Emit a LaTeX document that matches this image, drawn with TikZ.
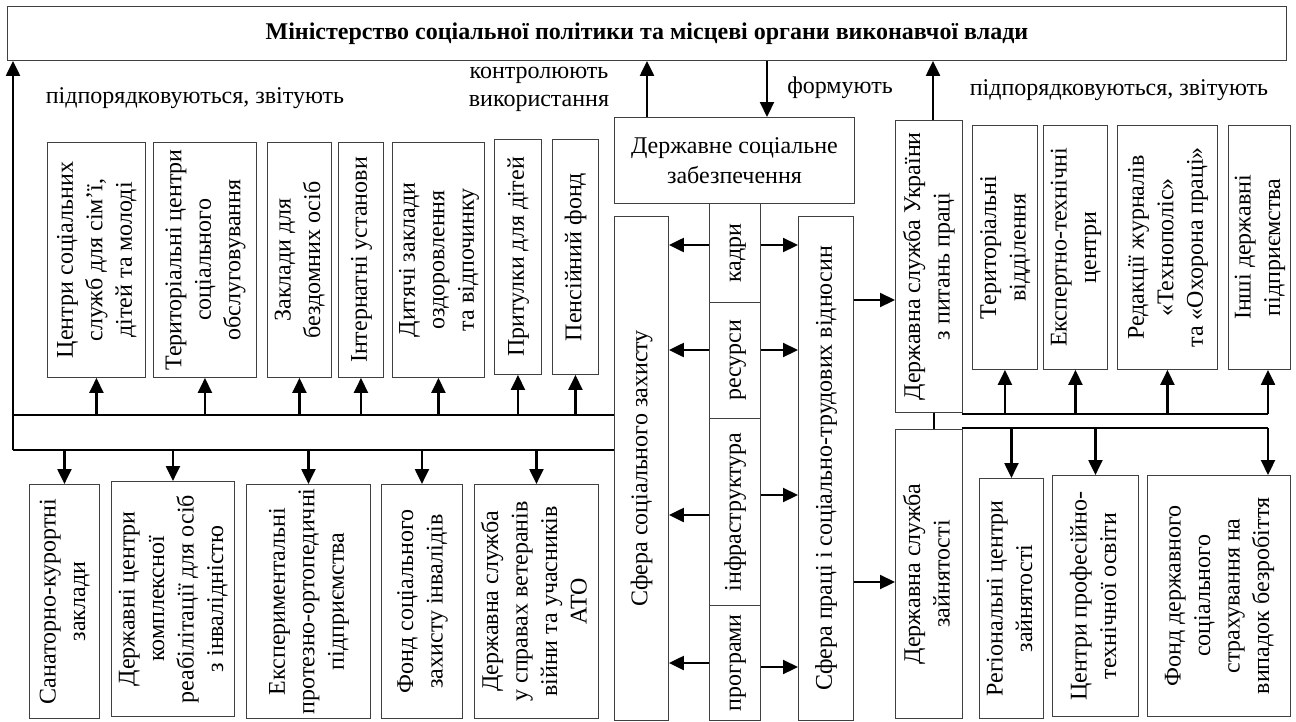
\documentclass[tikz,border=0pt]{standalone}
\usepackage{fontspec}
\setmainfont{Liberation Serif}
\usetikzlibrary{arrows.meta}
\newcommand\vlab[1]{\rotatebox{90}{\begin{tabular}{@{}c@{}}#1\end{tabular}}}

\begin{document}
\begin{tikzpicture}[x=1pt,y=-1pt,
  bx/.style={draw=black!75,line width=0.9pt,inner sep=1pt,anchor=north west,font=\fontsize{24}{29.5}\selectfont},
  tx/.style={font=\fontsize{24}{28}\selectfont,align=center},
  ar/.style={line width=2.2pt,-{Triangle[length=15pt,width=14pt]}},
  ln/.style={line width=2.2pt}]
\useasboundingbox (0,0) rectangle (1296,721);

% ministry
\node[bx,minimum width=1279,minimum height=54,font=\fontsize{24}{29.5}\selectfont\bfseries] (min) at (7,6)
  {Міністерство соціальної політики та місцеві органи виконавчої влади};

\node[tx] (lsub) at (195,98) {підпорядковуються, звітують};
\node[tx] (ctrl) at (539,89) {контролюють\\використання};
\node[tx] (form) at (840,88) {формують};
\node[tx] (rsub) at (1119,90) {підпорядковуються, звітують};

% middle column
\node[bx,minimum width=240,minimum height=86,align=center] (dsz) at (614,117) {Державне соціальне\\забезпечення};
\node[bx,minimum width=54,minimum height=504] (szz) at (614,216) {\vlab{Сфера соціального захисту}};
\node[bx,minimum width=51,minimum height=99] (kd) at (709,203) {\vlab{кадри}};
\node[bx,minimum width=51,minimum height=116] (rs) at (709,302) {\vlab{ресурси}};
\node[bx,minimum width=51,minimum height=187] (inf) at (709,418) {\vlab{інфраструктура}};
\node[bx,minimum width=51,minimum height=115] (pr) at (709,605) {\vlab{програми}};
\node[bx,minimum width=55,minimum height=504] (spr) at (798,216) {\vlab{Сфера праці і соціально-трудових відносин}};
\node[bx,minimum width=67,minimum height=292] (dsu) at (895,120) {\vlab{Державна служба України\\з питань праці}};
\node[bx,minimum width=67,minimum height=289] (dszn) at (895,429) {\vlab{Державна служба\\зайнятості}};

% upper left row
\node[bx,minimum width=98,minimum height=235] (cs) at (47,142) {\vlab{Центри соціальних\\служб для сім’ї,\\дітей та молоді}};
\node[bx,minimum width=103,minimum height=235] (tc) at (153,142) {\vlab{Територіальні центри\\соціального\\обслуговування}};
\node[bx,minimum width=64,minimum height=235] (zb) at (267,142) {\vlab{Заклади для\\бездомних осіб}};
\node[bx,minimum width=45,minimum height=235] (iu) at (338,142) {\vlab{Інтернатні установи}};
\node[bx,minimum width=92,minimum height=235] (dz) at (392,142) {\vlab{Дитячі заклади\\оздоровлення\\та відпочинку}};
\node[bx,minimum width=47,minimum height=235] (pd) at (494,139) {\vlab{Притулки для дітей}};
\node[bx,minimum width=46,minimum height=235] (pf) at (552,139) {\vlab{Пенсійний фонд}};

% lower left row
\node[bx,minimum width=70,minimum height=234] (sk) at (29,484) {\vlab{Санаторно-курортні\\заклади}};
\node[bx,minimum width=123,minimum height=235] (dc) at (111,481) {\vlab{Державні центри\\комплексної\\реабілітації для осіб\\з інвалідністю}};
\node[bx,minimum width=124,minimum height=234] (ep) at (246,484) {\vlab{Експериментальні\\протезно-ортопедичні\\підприємства}};
\node[bx,minimum width=81,minimum height=234] (fs) at (381,484) {\vlab{Фонд соціального\\захисту інвалідів}};
\node[bx,minimum width=124,minimum height=234] (dsv) at (474,484) {\vlab{Державна служба\\у справах ветеранів\\війни та учасників\\АТО}};

% upper right row
\node[bx,minimum width=65,minimum height=244] (tv) at (972,125) {\vlab{Територіальні\\відділення}};
\node[bx,minimum width=64,minimum height=244] (et) at (1043,125) {\vlab{Експертно-технічні\\центри}};
\node[bx,minimum width=100,minimum height=244] (rj) at (1117,125) {\vlab{Редакції журналів\\«Технополіс»\\та «Охорона праці»}};
\node[bx,minimum width=62,minimum height=244] (id) at (1228,125) {\vlab{Інші державні\\підприємства}};

% lower right row
\node[bx,minimum width=64,minimum height=240] (rcz) at (979,478) {\vlab{Регіональні центри\\зайнятості}};
\node[bx,minimum width=86,minimum height=241] (cpt) at (1052,475) {\vlab{Центри професійно-\\технічної освіти}};
\node[bx,minimum width=143,minimum height=241] (fds) at (1147,475) {\vlab{Фонд державного\\соціального\\страхування на\\випадок безробіття}};

% buses
\coordinate (bA) at (13,415);
\coordinate (bB) at (13,450);
\coordinate (bC) at (962,414);
\coordinate (bD) at (962,428);
\coordinate (cE) at (1268,414);
\coordinate (dE) at (1268,428);
\draw[ln] (bA) -- (bA -| szz.west);
\draw[ln] (bB) -- (bB -| szz.west);
\draw[ln] (bC) -- (cE);
\draw[ln] (bD) -- (dE);
\draw[ln] (dsu.south -| 934,0) -- (dszn.north -| 934,0);

% arrows to the ministry
\draw[ar] (bB) -- (bB |- min.south);
\draw[ar] (dsz.north -| 647,0) -- (min.south -| 647,0);
\draw[ar] (min.south -| 767,0) -- (dsz.north -| 767,0);
\draw[ar] (dsu.north -| 933,0) -- (min.south -| 933,0);

\foreach \n in {cs,tc,zb,iu,dz,pd,pf} \draw[ar] (\n.south |- bA) -- (\n.south);
\foreach \n in {sk,dc,ep,fs,dsv} \draw[ar] (\n.north |- bB) -- (\n.north);
\foreach \n in {tv,et,rj} \draw[ar] (\n.south |- bC) -- (\n.south);
\draw[ar] (cE) -- (cE |- id.south);
\foreach \n in {rcz,cpt} \draw[ar] (\n.north |- bD) -- (\n.north);
\draw[ar] (dE) -- (dE |- fds.north);

% kadry, resursy ...
\foreach \n/\yl/\yr in {kd/245/245,rs/350/350,inf/515/495,pr/663/667}{
  \draw[ar] (\n.west |- 0,\yl) -- (szz.east |- 0,\yl);
  \draw[ar] (\n.east |- 0,\yr) -- (spr.west |- 0,\yr);
}
\draw[ar] (spr.east |- 0,300) -- (dsu.west |- 0,300);
\draw[ar] (spr.east |- 0,582) -- (dszn.west |- 0,582);
\end{tikzpicture}
\end{document}
